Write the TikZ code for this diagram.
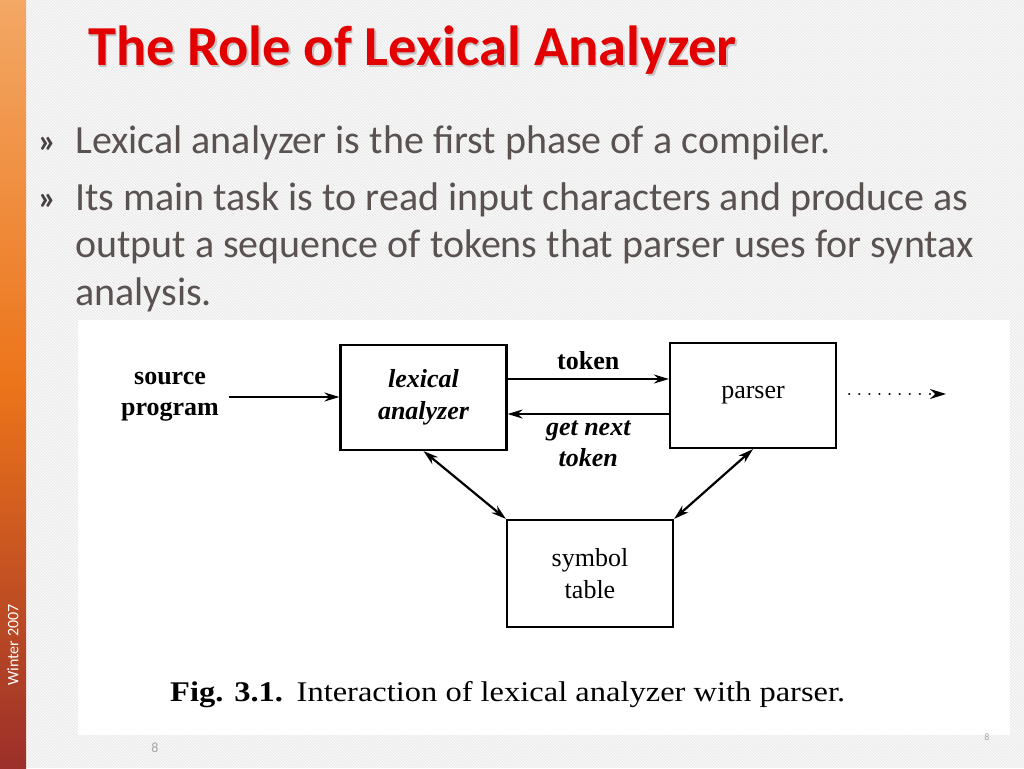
\documentclass[tikz,border=0pt]{standalone}
\usepackage{fontspec}
\setmainfont{Liberation Serif}
\newfontfamily\slidefont{Carlito}
\usetikzlibrary{arrows.meta,patterns}
\definecolor{titlered}{HTML}{E30000}
\definecolor{bodygray}{HTML}{5A5250}
\definecolor{slidebg}{HTML}{ECECEC}
\definecolor{barlight}{HTML}{F3A865}
\definecolor{barmid}{HTML}{EC741A}
\definecolor{bardark}{HTML}{9C2F2A}
\begin{document}
\begin{tikzpicture}[x=1pt,y=-1pt,
  box/.style={draw,line width=2.2pt,minimum width=166pt,minimum height=105pt,inner sep=0pt,
    font=\fontsize{26}{32}\selectfont\bfseries,align=center},
  lbl/.style={font=\fontsize{26}{31}\selectfont\bfseries,align=center,inner sep=0pt},
  flow/.style={line width=2.2pt,-{Stealth[length=15pt,width=9pt]}},
  dflow/.style={line width=2.2pt,{Stealth[length=15pt,width=9pt]}-{Stealth[length=15pt,width=9pt]}},
  bullet/.style={anchor=base west,inner sep=0pt,text=bodygray,font=\slidefont\fontsize{40}{47}\selectfont},
  bulletsign/.style={anchor=base west,inner sep=0pt,text=bodygray!80!black,font=\slidefont\bfseries\fontsize{34}{34}\selectfont}]
% slide background
\useasboundingbox (0,0) rectangle (1024,768);
\fill[slidebg] (0,0) rectangle (1024,768);
\fill[pattern=north west lines,pattern color=white] (26,0) rectangle (1024,768);
\shade[top color=barlight,bottom color=bardark,middle color=barmid] (0,0) rectangle (26,768);
\node[rotate=90,text=white,font=\slidefont\fontsize{16}{16}\selectfont] (season) at (13,645) {Winter 2007};
% title
\node[anchor=base west,inner sep=0pt,text=black!40,opacity=0.5,font=\slidefont\bfseries\fontsize{56.5}{57}\selectfont] at (89.5,67.5) {The Role of Lexical Analyzer};
\node[anchor=base west,inner sep=0pt,text=titlered,font=\slidefont\bfseries\fontsize{56.5}{57}\selectfont] (title) at (88,65) {The Role of Lexical Analyzer};
% bullets
\node[bulletsign] (sign1) at (38,152) {\guillemotright};
\node[bullet] (item1) at (75,153) {Lexical analyzer is the first phase of a compiler.};
\node[bulletsign] (sign2) at (38,209) {\guillemotright};
\node[bullet] (item2a) at (75,210) {Its main task is to read input characters and produce as};
\node[bullet] (item2b) at (75,257) {output a sequence of tokens that parser uses for syntax};
\node[bullet] (item2c) at (75,305) {analysis.};
% figure panel
\fill[white] (78,320) rectangle (1010,735);
\node[box] (lexer) at (423.5,397.5) {\itshape lexical\\ \itshape analyzer};
\node[box] (parser) at (753,395.5) {\mdseries parser};
\node[box,minimum height=107pt] (symtab) at (590,573.5) {\mdseries symbol\\ \mdseries table};
\node[lbl] (src) at (170,397) {source\\ program};
\coordinate (beyond) at (946,394);
\draw[flow] (src.east) ++(10,0) -- (lexer.west |- src.east);
\draw[flow] ([yshift=18.5pt]lexer.east) -- node[lbl,above=8pt] (tok) {token} ([yshift=16.5pt]parser.west);
\draw[flow] ([yshift=-18.5pt]parser.west) -- node[lbl,below=6pt,font=\fontsize{26}{31}\selectfont\bfseries\itshape] (gnt) {get next\\ token} ([yshift=-16.5pt]lexer.east);
\draw[line width=2.4pt,dash pattern=on 0.1pt off 10pt,line cap=round,-{Stealth[length=16pt,width=10pt]}] ([xshift=12pt]parser.east |- beyond) -- (beyond);
\draw[dflow] (lexer.south) -- (symtab.north west);
\draw[dflow] (parser.south) -- (symtab.north east);
% caption and page numbers
\node[anchor=base west,inner sep=0pt,font=\fontsize{28.5}{28.5}\selectfont] (caption) at (170,701)
  {\scalebox{1.14}[1]{\textbf{Fig. 3.1.}\hspace{12pt}Interaction of lexical analyzer with parser.}};
\node[text=black!35,font=\slidefont\fontsize{14}{14}\selectfont] (pg) at (155,748) {8};
\node[text=black!35,font=\slidefont\fontsize{10}{10}\selectfont] (pgr) at (987,737) {8};
\end{tikzpicture}
\end{document}
